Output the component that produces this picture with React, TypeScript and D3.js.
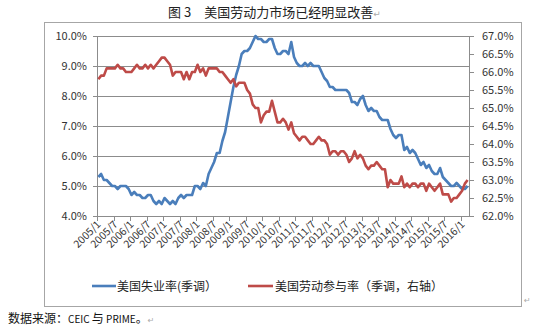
import React from "react";
import * as d3 from "d3";

const unemployment: number[] = [
  5.3, 5.4, 5.2, 5.2, 5.1, 5.0, 5.0, 4.9, 5.0, 5.0, 5.0, 4.9,
  4.7, 4.8, 4.7, 4.7, 4.6, 4.6, 4.7, 4.7, 4.5, 4.4, 4.5, 4.4,
  4.6, 4.5, 4.4, 4.5, 4.4, 4.6, 4.7, 4.6, 4.7, 4.7, 4.7, 5.0,
  5.0, 4.9, 5.1, 5.0, 5.4, 5.6, 5.8, 6.1, 6.1, 6.5, 6.8, 7.3,
  7.8, 8.3, 8.7, 9.0, 9.4, 9.5, 9.5, 9.6, 9.8, 10.0, 9.9, 9.9,
  9.8, 9.8, 9.9, 9.9, 9.6, 9.4, 9.4, 9.5, 9.5, 9.4, 9.8, 9.3,
  9.1, 9.0, 9.0, 9.1, 9.0, 9.1, 9.0, 9.0, 9.0, 8.8, 8.6, 8.5,
  8.3, 8.3, 8.2, 8.2, 8.2, 8.2, 8.2, 8.1, 7.8, 7.8, 7.7, 7.9,
  8.0, 7.7, 7.5, 7.6, 7.5, 7.5, 7.3, 7.2, 7.2, 7.2, 6.9, 6.7,
  6.6, 6.7, 6.7, 6.2, 6.3, 6.1, 6.2, 6.1, 5.9, 5.7, 5.8, 5.6,
  5.7, 5.5, 5.4, 5.4, 5.6, 5.3, 5.2, 5.1, 5.0, 5.0, 5.1, 5.0,
  4.9, 4.9, 5.0,
];

const participation: number[] = [
  65.8, 65.9, 65.9, 66.1, 66.1, 66.1, 66.1, 66.2, 66.1, 66.1, 66.0, 66.0,
  66.0, 66.1, 66.2, 66.1, 66.1, 66.2, 66.1, 66.2, 66.1, 66.2, 66.3, 66.4,
  66.4, 66.3, 66.2, 65.9, 66.0, 66.0, 66.0, 65.8, 66.0, 65.8, 66.0, 66.0,
  66.2, 66.0, 66.1, 65.9, 66.1, 66.1, 66.1, 66.1, 66.0, 66.0, 65.9, 65.8,
  65.7, 65.8, 65.6, 65.7, 65.7, 65.7, 65.5, 65.4, 65.1, 65.0, 65.0, 64.6,
  64.8, 64.9, 64.9, 65.2, 64.9, 64.6, 64.6, 64.7, 64.6, 64.4, 64.6, 64.3,
  64.2, 64.1, 64.2, 64.2, 64.1, 64.0, 64.0, 64.1, 64.2, 64.1, 64.1, 64.0,
  63.7, 63.8, 63.8, 63.7, 63.8, 63.8, 63.7, 63.5, 63.6, 63.8, 63.6, 63.7,
  63.6, 63.4, 63.3, 63.4, 63.4, 63.5, 63.4, 63.3, 63.3, 62.8, 63.0, 62.9,
  62.9, 62.9, 63.1, 62.8, 62.9, 62.8, 62.9, 62.9, 62.8, 62.9, 62.9, 62.7,
  62.9, 62.8, 62.7, 62.8, 62.9, 62.6, 62.6, 62.6, 62.4, 62.5, 62.5, 62.6,
  62.7, 62.9, 63.0,
];

const months: string[] = unemployment.map((_, i) => `${2005 + Math.floor(i / 12)}/${(i % 12) + 1}`);
const leftTicks: number[] = [4, 5, 6, 7, 8, 9, 10];
const rightTicks: number[] = [62, 62.5, 63, 63.5, 64, 64.5, 65, 65.5, 66, 66.5, 67];

const title = "图 3　美国劳动力市场已经明显改善";
const legendLabels = ["美国失业率(季调）", "美国劳动参与率（季调，右轴）"];
const source = "数据来源：";

const BLUE = "#4A7EBB";
const RED = "#BE4B48";
const GRID = "#8C8C8C";
const FONT = "'Noto Sans CJK SC', 'Noto Sans', sans-serif";

export default function App() {
  const left = 97, right = 469, top = 36, bottom = 216;
  const x = d3.scaleBand<string>().domain(months).range([left, right]).padding(0);
  const cx = (i: number) => (x(months[i]) as number) + x.bandwidth() / 2;
  const yL = d3.scaleLinear().domain([4, 10]).range([bottom, top]);
  const yR = d3.scaleLinear().domain([62, 67]).range([bottom, top]);

  const lineL = d3.line<number>().x((_, i) => cx(i)).y((d) => yL(d));
  const lineR = d3.line<number>().x((_, i) => cx(i)).y((d) => yR(d));

  const xTickIdx = months.map((_, i) => i).filter((i) => i % 6 === 0);

  return (
    <svg width={550} height={331} style={{ position: "absolute", left: 0, top: 0, background: "#fff" }} fontFamily={FONT}>
      <rect x={0} y={0} width={550} height={331} fill="#fff" />
      {/* title */}
      <text x={168} y={17} fontSize={13} fill="#222">{title}<tspan fill="#aaa" fontSize={9} fontFamily="DejaVu Sans">↵</tspan></text>
      {/* chart border */}
      <rect x={44.5} y={22.5} width={477} height={284} fill="none" stroke="#A6A6A6" strokeWidth={1} />
      <text x={524} y={303} fontSize={8} fill="#aaa" fontFamily="DejaVu Sans">↵</text>

      {/* gridlines */}
      {leftTicks.map((t) => (
        <line key={"g" + t} x1={left} x2={right} y1={Math.round(yL(t)) + 0.5} y2={Math.round(yL(t)) + 0.5} stroke={GRID} strokeWidth={1} />
      ))}
      {/* left axis */}
      <line x1={left + 0.5} x2={left + 0.5} y1={top} y2={bottom} stroke={GRID} />
      {leftTicks.map((t) => (
        <g key={"l" + t}>
          <line x1={left - 4} x2={left} y1={Math.round(yL(t)) + 0.5} y2={Math.round(yL(t)) + 0.5} stroke={GRID} />
          <text x={87} y={yL(t) + 4} fontSize={11} textAnchor="end" fill="#333">{t.toFixed(1)}%</text>
        </g>
      ))}
      {/* right axis */}
      <line x1={right + 0.5} x2={right + 0.5} y1={top} y2={bottom} stroke={GRID} />
      {rightTicks.map((t) => (
        <g key={"r" + t}>
          <line x1={right} x2={right + 5} y1={Math.round(yR(t)) + 0.5} y2={Math.round(yR(t)) + 0.5} stroke={GRID} />
          <text x={482} y={yR(t) + 4} fontSize={11} textAnchor="start" fill="#333">{t.toFixed(1)}%</text>
        </g>
      ))}
      {/* x axis ticks */}
      {xTickIdx.map((i) => {
        const tx = Math.round(x(months[i]) as number) + 0.5;
        return (
          <g key={"x" + i}>
            <line x1={tx} x2={tx} y1={bottom} y2={bottom + 5} stroke={GRID} />
            <text transform={`translate(${tx + 4},${bottom + 9}) rotate(-45)`} fontSize={10.5} textAnchor="end" fill="#333">{months[i]}</text>
          </g>
        );
      })}

      {/* series */}
      <path d={lineL(unemployment) || ""} fill="none" stroke={BLUE} strokeWidth={2.6} strokeLinejoin="round" />
      <path d={lineR(participation) || ""} fill="none" stroke={RED} strokeWidth={2.6} strokeLinejoin="round" />

      {/* legend */}
      <line x1={92} x2={116} y1={286} y2={286} stroke={BLUE} strokeWidth={2.6} />
      <text x={117} y={290.5} fontSize={12} fill="#222">{legendLabels[0]}</text>
      <line x1={248} x2={273} y1={286} y2={286} stroke={RED} strokeWidth={2.6} />
      <text x={275} y={290.5} fontSize={12} fill="#222">{legendLabels[1]}</text>

      {/* source */}
      <text x={8} y={323} fontSize={12} fill="#111">{source}<tspan fontSize={10}>CEIC </tspan><tspan>与</tspan><tspan fontSize={10}> PRIME</tspan>。<tspan fill="#aaa" fontSize={8} fontFamily="DejaVu Sans">↵</tspan></text>
    </svg>
  );
}
